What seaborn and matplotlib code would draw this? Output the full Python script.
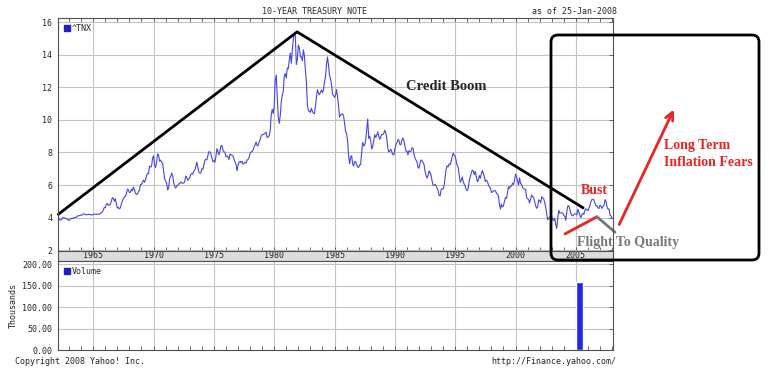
import numpy as np
import seaborn as sns
import matplotlib.pyplot as plt
import matplotlib.ticker as ticker
from matplotlib.lines import Line2D
from matplotlib.patches import FancyBboxPatch

# ^TNX monthly, Jan 1962 .. Jan 2008
tnx_1960s = [4.08, 4.04, 3.93, 3.84, 3.87, 3.91, 4.01, 3.98, 3.98, 3.93, 3.92, 3.86,
             3.83, 3.92, 3.93, 3.97, 3.93, 3.99, 4.02, 4.00, 4.08, 4.11, 4.12, 4.13,
             4.17, 4.15, 4.22, 4.23, 4.20, 4.17, 4.19, 4.19, 4.20, 4.19, 4.15, 4.18,
             4.19, 4.21, 4.21, 4.20, 4.21, 4.21, 4.20, 4.25, 4.29, 4.35, 4.45, 4.62,
             4.61, 4.83, 4.87, 4.75, 4.78, 4.81, 5.02, 5.22, 5.18, 5.01, 5.16, 4.84,
             4.58, 4.63, 4.54, 4.59, 4.85, 5.02, 5.16, 5.28, 5.30, 5.48, 5.75, 5.70,
             5.53, 5.56, 5.74, 5.64, 5.87, 5.72, 5.50, 5.42, 5.46, 5.58, 5.70, 6.03,
             6.04, 6.19, 6.30, 6.17, 6.32, 6.57, 6.72, 6.69, 7.16, 7.10, 7.14, 7.65]
tnx_1970s = [7.79, 7.24, 7.07, 7.39, 7.91, 7.84, 7.46, 7.53, 7.39, 7.33, 6.84, 6.39,
             6.24, 6.11, 5.70, 5.83, 6.39, 6.52, 6.73, 6.58, 6.14, 5.93, 5.81, 5.93,
             5.95, 6.08, 6.07, 6.19, 6.13, 6.11, 6.11, 6.21, 6.55, 6.48, 6.28, 6.36,
             6.46, 6.64, 6.71, 6.67, 6.85, 6.90, 7.13, 7.40, 7.09, 6.79, 6.73, 6.74,
             6.99, 6.96, 7.21, 7.51, 7.58, 7.54, 7.81, 8.04, 8.04, 7.90, 7.68, 7.43,
             7.50, 7.39, 7.73, 8.23, 8.06, 7.86, 8.06, 8.40, 8.43, 8.14, 8.05, 8.00,
             7.74, 7.79, 7.73, 7.56, 7.90, 7.86, 7.83, 7.77, 7.59, 7.41, 7.29, 6.87,
             7.21, 7.39, 7.46, 7.37, 7.46, 7.28, 7.33, 7.40, 7.34, 7.52, 7.58, 7.69,
             7.96, 8.03, 8.04, 8.15, 8.35, 8.46, 8.64, 8.41, 8.42, 8.64, 8.81, 9.01,
             9.10, 9.10, 9.12, 9.18, 9.25, 8.91, 8.95, 9.03, 9.33, 10.30, 10.65, 10.39]
tnx_1980s = [10.80, 12.41, 12.75, 11.47, 10.18, 9.78, 10.25, 11.10, 11.51, 11.75, 12.68, 12.84,
             12.57, 13.19, 13.12, 13.68, 14.10, 13.47, 14.28, 14.94, 15.32, 15.15, 13.39, 13.72,
             14.59, 14.43, 13.86, 13.87, 13.62, 14.30, 13.95, 13.06, 12.34, 10.91, 10.55, 10.54,
             10.46, 10.72, 10.51, 10.40, 10.38, 10.85, 11.38, 11.85, 11.65, 11.54, 11.69, 11.83,
             11.67, 11.84, 12.32, 12.63, 13.41, 13.86, 13.36, 12.72, 12.52, 12.16, 11.57, 11.50,
             11.38, 11.51, 11.86, 11.43, 10.85, 10.16, 10.31, 10.33, 10.37, 10.24, 9.78, 9.26,
             9.19, 8.70, 7.78, 7.30, 7.71, 7.80, 7.30, 7.17, 7.45, 7.43, 7.25, 7.11,
             7.08, 7.25, 7.25, 8.02, 8.61, 8.40, 8.45, 8.76, 9.42, 10.05, 8.86, 8.99,
             8.67, 8.21, 8.37, 8.72, 9.09, 8.92, 9.06, 9.26, 8.98, 8.80, 8.96, 9.11,
             9.09, 9.17, 9.36, 9.18, 8.86, 8.28, 8.02, 8.11, 8.19, 8.01, 7.87, 7.84]
tnx_1990s = [8.21, 8.47, 8.59, 8.79, 8.76, 8.48, 8.47, 8.75, 8.89, 8.72, 8.39, 8.08,
             8.09, 7.85, 8.11, 8.04, 8.07, 8.28, 8.27, 7.90, 7.65, 7.53, 7.42, 7.09,
             7.03, 7.34, 7.54, 7.48, 7.39, 7.26, 6.84, 6.59, 6.42, 6.59, 6.87, 6.77,
             6.60, 6.26, 5.98, 5.97, 6.04, 5.96, 5.81, 5.68, 5.36, 5.33, 5.72, 5.77,
             5.75, 5.97, 6.48, 6.97, 7.18, 7.10, 7.30, 7.24, 7.46, 7.74, 7.96, 7.81,
             7.78, 7.47, 7.20, 7.06, 6.63, 6.17, 6.28, 6.49, 6.20, 6.04, 5.93, 5.71,
             5.65, 5.81, 6.27, 6.51, 6.74, 6.91, 6.87, 6.64, 6.83, 6.53, 6.20, 6.30,
             6.58, 6.42, 6.69, 6.89, 6.71, 6.49, 6.22, 6.30, 6.21, 6.03, 5.88, 5.81,
             5.54, 5.57, 5.65, 5.64, 5.65, 5.50, 5.46, 5.34, 4.81, 4.53, 4.83, 4.65,
             4.72, 5.00, 5.23, 5.18, 5.54, 5.90, 5.79, 5.94, 5.92, 6.11, 6.03, 6.28]
tnx_2000s = [6.66, 6.52, 6.26, 5.99, 6.44, 6.10, 6.05, 5.83, 5.80, 5.74, 5.72, 5.24,
             5.16, 5.10, 4.89, 5.14, 5.39, 5.28, 5.24, 4.97, 4.73, 4.57, 4.65, 5.09,
             5.04, 4.91, 5.28, 5.21, 5.16, 4.93, 4.65, 4.26, 3.87, 3.94, 4.05, 4.03,
             4.05, 3.90, 3.81, 3.96, 3.57, 3.33, 3.98, 4.45, 4.27, 4.29, 4.30, 4.27,
             4.15, 4.08, 3.83, 4.35, 4.72, 4.73, 4.50, 4.28, 4.13, 4.10, 4.19, 4.23,
             4.22, 4.17, 4.50, 4.34, 4.14, 4.00, 4.18, 4.26, 4.20, 4.46, 4.54, 4.47,
             4.42, 4.57, 4.72, 4.99, 5.11, 5.11, 5.09, 4.88, 4.72, 4.73, 4.60, 4.56,
             4.76, 4.72, 4.56, 4.69, 4.75, 5.10, 5.00, 4.67, 4.52, 4.53, 4.15, 4.10,
             3.95]
start_year = 1962

# volume (thousands)
vol_dates = [2005.05]
vol_values = [158]

# hand-drawn annotations (main axes data coords)
boom_x = [1962.1, 1981.9, 2005.6]
boom_y = [4.2, 15.4, 4.6]
bust_x = [2004.1, 2006.75]
bust_y = [3.0, 4.05]
flight_x = [2006.75, 2008.25]
flight_y = [4.05, 3.1]

tnx = tnx_1960s + tnx_1970s + tnx_1980s + tnx_1990s + tnx_2000s
dates = start_year + np.arange(len(tnx)) / 12.0

sns.set_style("white")
plt.rcParams['font.family'] = ['DejaVu Sans Mono']
mono = 6
serif = ['Liberation Serif', 'DejaVu Serif']

fig = plt.figure(figsize=(7.8, 3.71), dpi=100)
W, H = 780, 371
def rect(l, t, r, b):
    return [l / W, 1 - b / H, (r - l) / W, (b - t) / H]

xlim = (1962.08, 2008.08)
edge = '#505050'
grid = '#c4c4c4'

ax = fig.add_axes(rect(58, 18, 613, 251))
band = fig.add_axes(rect(58, 251, 613, 261))
axv = fig.add_axes(rect(58, 261, 613, 350))

# main price chart
sns.lineplot(x=dates, y=tnx, ax=ax, color='#4646e6', lw=0.8)
ax.set_xlim(*xlim)
ax.set_ylim(1.95, 16.25)
ax.set_yticks(range(2, 17, 2))
ax.xaxis.set_major_locator(ticker.MultipleLocator(5))
ax.xaxis.set_minor_locator(ticker.MultipleLocator(1))
ax.grid(True, which='major', color=grid, lw=0.8)
ax.tick_params(axis='x', which='both', bottom=True, top=True, labelbottom=False,
               direction='in', length=3, width=0.6, color=edge)
ax.tick_params(axis='y', left=False, right=True, direction='in', length=3,
               width=0.6, color=edge, labelsize=mono, pad=4)
ax.set_xlabel('')
ax.set_ylabel('')
ax.legend(handles=[Line2D([], [], marker='s', ls='none', color='#2020c0', markersize=4)],
          labels=['^TNX'], loc='upper left', frameon=False, fontsize=mono,
          handletextpad=0.1, borderaxespad=0.3, handlelength=0.8)

# year band
band.set_facecolor('#dcdcdc')
band.set_xlim(*xlim)
band.set_ylim(0, 1)
band.set_yticks([])
band.xaxis.set_major_locator(ticker.MultipleLocator(5))
band.xaxis.set_major_formatter(ticker.FormatStrFormatter('%d'))
band.tick_params(axis='x', length=0, labelsize=mono, pad=-7.5)

# volume panel
axv.bar(vol_dates, vol_values, width=0.52, align='edge', color='#2424f0')
axv.set_xlim(*xlim)
axv.set_ylim(0, 207)
axv.set_yticks(range(0, 201, 50))
axv.yaxis.set_major_formatter(ticker.FormatStrFormatter('%.2f'))
axv.xaxis.set_major_locator(ticker.MultipleLocator(5))
axv.xaxis.set_minor_locator(ticker.MultipleLocator(1))
axv.grid(True, which='major', color=grid, lw=0.8)
axv.tick_params(axis='x', which='both', bottom=True, labelbottom=False,
                direction='in', length=3, width=0.6, color=edge)
axv.tick_params(axis='y', left=False, right=True, direction='in', length=3,
                width=0.6, color=edge, labelsize=mono, pad=4)
axv.set_ylabel('Thousands', fontsize=mono, labelpad=3)
axv.legend(handles=[Line2D([], [], marker='s', ls='none', color='#2020c0', markersize=4)],
           labels=['Volume'], loc='upper left', frameon=False, fontsize=mono,
           handletextpad=0.1, borderaxespad=0.3, handlelength=0.8)

for a in (ax, band, axv):
    for s in a.spines.values():
        s.set_color(edge)
        s.set_linewidth(0.8)

# annotations
ax.plot(boom_x, boom_y, color='black', lw=2, clip_on=False)
ax.plot(bust_x, bust_y, color='#ee2222', lw=2, clip_on=False)
ax.plot(flight_x, flight_y, color='#777777', lw=2, clip_on=False)

fig.text(446 / W, 1 - 87 / H, 'Credit Boom', family=serif, weight='bold',
         fontsize=10.5, ha='center', va='center')
fig.text(594 / W, 1 - 190 / H, 'Bust', family=serif, weight='bold',
         fontsize=10, color='#ee2222', ha='center', va='center')
fig.text(577 / W, 1 - 242 / H, 'Flight To Quality', family=serif, weight='bold',
         fontsize=10, color='#777777', ha='left', va='center')
fig.text(664 / W, 1 - 154 / H, 'Long Term\nInflation Fears', family=serif,
         weight='bold', fontsize=10, color='#ee2222', ha='left', va='center',
         linespacing=1.3)
fig.add_artist(FancyBboxPatch((551, H - 260), 208, 225, transform=None,
                              boxstyle='round,pad=0,rounding_size=7',
                              fill=False, ec='black', lw=2))
ax.annotate('', xy=(675, H - 107), xytext=(618, H - 227),
            xycoords='figure pixels', textcoords='figure pixels',
            arrowprops=dict(arrowstyle='->', color='#ee2222', lw=2,
                            mutation_scale=14))

# header / footer
fig.text(315 / W, 1 - 12 / H, '10-YEAR TREASURY NOTE', fontsize=mono,
         ha='center', va='center')
fig.text(617 / W, 1 - 12 / H, 'as of 25-Jan-2008', fontsize=mono,
         ha='right', va='center')
fig.text(15 / W, 1 - 361 / H, 'Copyright 2008 Yahoo! Inc.', fontsize=mono,
         ha='left', va='center')
fig.text(616 / W, 1 - 361 / H, 'http://Finance.yahoo.com/', fontsize=mono,
         ha='right', va='center')

fig.savefig('out.png', dpi=100)
